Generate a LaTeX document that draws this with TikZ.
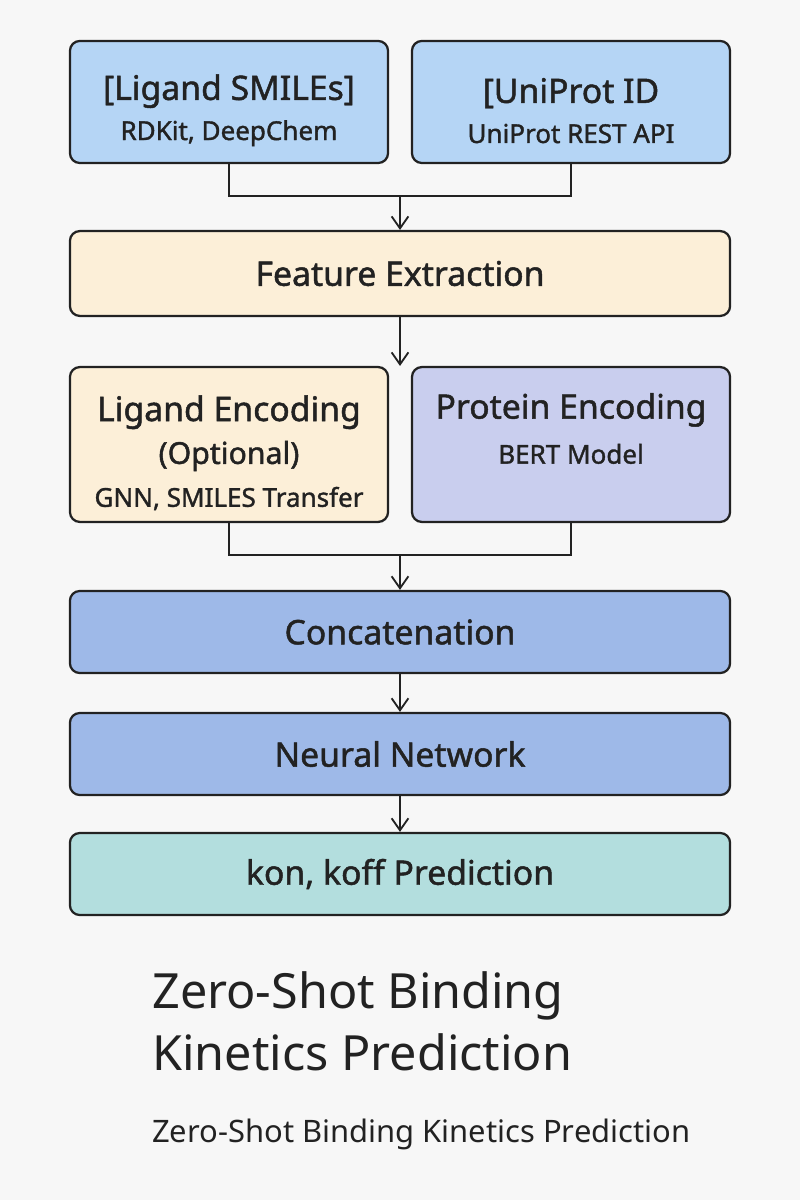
\documentclass[tikz,border=0pt]{standalone}
\usepackage{fontspec}
\setmainfont{Noto Sans}[BoldFont=Noto Sans, BoldFeatures={FakeBold=1.4}]
\usepackage{xcolor}
\usetikzlibrary{positioning,calc,arrows.meta}

\definecolor{bgcol}{HTML}{F7F7F7}
\definecolor{inblue}{HTML}{B5D5F5}
\definecolor{cream}{HTML}{FCEFD8}
\definecolor{lavender}{HTML}{C9CEEE}
\definecolor{midblue}{HTML}{9EB9E8}
\definecolor{teal}{HTML}{B3DEDE}
\definecolor{ink}{HTML}{222222}

\newcommand{\bigtxt}[1]{{\fontsize{24}{30}\selectfont #1}}
\newcommand{\midtxt}[1]{{\fontsize{21.5}{30}\selectfont #1}}
\newcommand{\smalltxt}[1]{{\fontsize{18.5}{30}\selectfont #1}}

\tikzset{
    box/.style={draw=ink, line width=1.6pt, rounded corners=7pt, align=center, text=ink, inner sep=0pt},
    halfbox/.style={box, minimum width=7.95cm},
    fullbox/.style={box, minimum width=16.5cm, minimum height=2.05cm, font=\bfseries\fontsize{24}{30}\selectfont},
    conn/.style={draw=ink, line width=1.3pt}
}

\begin{document}
\begin{tikzpicture}[x=0.025cm, y=-0.025cm, >={Straight Barb[length=3mm,width=4.2mm]}]
    \fill[bgcol] (0,0) rectangle (800,1200);
    \useasboundingbox (0,0) rectangle (800,1200);

    % inputs
    \node (smiles) [halfbox, fill=inblue, minimum height=3.05cm, font=\bfseries\fontsize{18}{28.5}\selectfont] at (229,102) {\rule{0pt}{30pt}\bigtxt{[Ligand SMILEs]}\\\smalltxt{RDKit, DeepChem}};
    \node (uniprot) [halfbox, fill=inblue, minimum height=3.05cm, font=\bfseries\fontsize{18}{28.5}\selectfont] at (571,102) {\rule{0pt}{30pt}\bigtxt{[UniProt ID}\\\smalltxt{UniProt REST API}};
    \node (feat) [fullbox, fill=cream, minimum height=2.12cm] at (400,273.5) {Feature Extraction};

    % encoders
    \node (ligenc) [halfbox, fill=cream, minimum height=3.87cm, font=\bfseries\fontsize{18}{30.5}\selectfont] at (229,444.5) {\rule{0pt}{30pt}\bigtxt{Ligand Encoding}\\\midtxt{(Optional)}\\\smalltxt{GNN, SMILES Transfer}};
    \node (protenc) [halfbox, fill=lavender, minimum height=3.87cm, font=\bfseries\fontsize{18}{32}\selectfont] at (571,444.5) {\bigtxt{Protein Encoding}\\\smalltxt{BERT Model}\rule[-23pt]{0pt}{0pt}};

    % model
    \node (concat) [fullbox, fill=midblue] at (400,632) {Concatenation};
    \node (nn) [fullbox, fill=midblue] at (400,754) {Neural Network};
    \node (pred) [fullbox, fill=teal] at (400,874) {kon, koff Prediction};

    % title
    \node (title1) [anchor=base west, inner sep=0pt, text=ink, font=\fontsize{34.5}{42}\selectfont] at (152,1008) {Zero-Shot Binding};
    \node (title2) [anchor=base west, inner sep=0pt, text=ink, font=\fontsize{34.5}{42}\selectfont] at (152,1070) {Kinetics Prediction};
    \node (subtitle) [anchor=base west, inner sep=0pt, text=ink, font=\fontsize{22}{26}\selectfont] at (152,1142) {Zero-Shot Binding Kinetics Prediction};

    % connectors
    \coordinate (j1) at (400,196);
    \coordinate (j2) at (400,555);
    \draw[conn] (smiles.south) |- (j1) -| (uniprot.south);
    \draw[conn,->] (j1) -- (feat.north);
    \draw[conn,->] (feat.south) -- (feat.south |- ligenc.north);
    \draw[conn] (ligenc.south) |- (j2) -| (protenc.south);
    \draw[conn,->] (j2) -- (concat.north);
    \draw[conn,->] (concat) -- (nn);
    \draw[conn,->] (nn) -- (pred);
\end{tikzpicture}
\end{document}
